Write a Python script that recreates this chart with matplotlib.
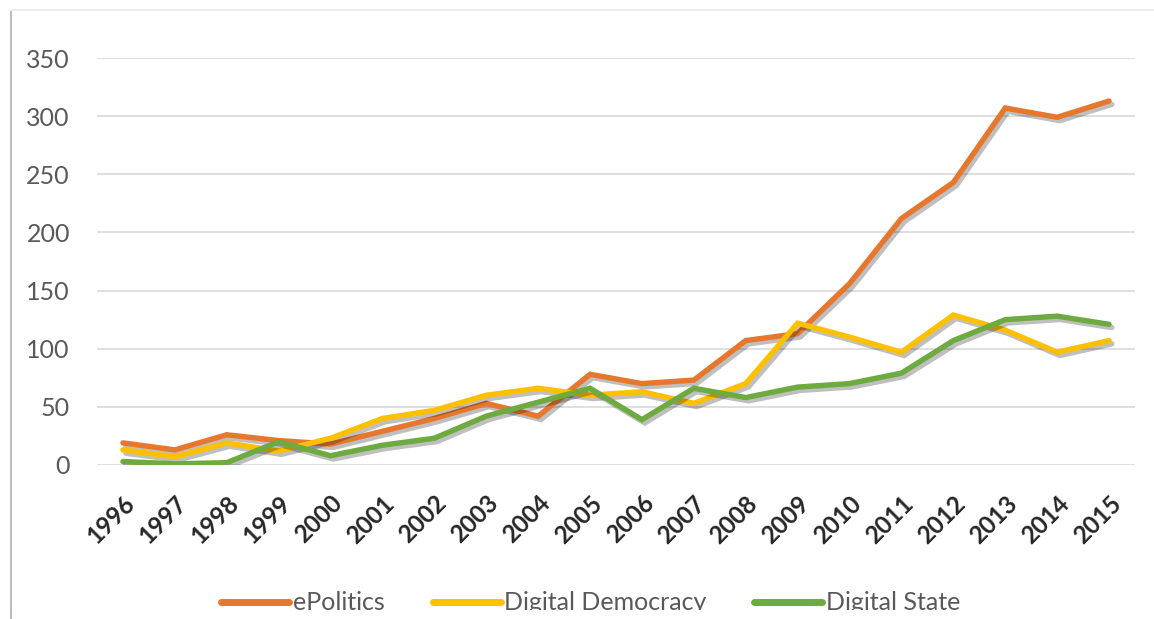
import matplotlib
matplotlib.use("Agg")
import matplotlib.pyplot as plt
import matplotlib.patheffects as pe
import matplotlib.transforms as mtransforms
from matplotlib.lines import Line2D
from matplotlib.patches import Rectangle

years = list(range(1996, 2016))
epolitics = [19, 13, 26, 21, 18, 29, 40, 53, 42, 78, 70, 73, 107, 113, 156, 212, 243, 307, 299, 313]
digital_democracy = [13, 7, 19, 12, 23, 40, 47, 60, 66, 60, 63, 53, 70, 122, 110, 97, 129, 116, 97, 107]
digital_state = [3, 1, 2, 20, 8, 17, 23, 42, 54, 66, 39, 66, 58, 67, 70, 79, 107, 125, 128, 121]
series_names = ["ePolitics", "Digital Democracy", "Digital State"]
series_colors = ["#E8772E", "#FFC000", "#6DAA3F"]
y_ticks = [0, 50, 100, 150, 200, 250, 300, 350]

plt.rcParams["font.family"] = ["Lato", "DejaVu Sans"]

W, H = 1154, 619
fig = plt.figure(figsize=(W / 100, H / 100), dpi=100)
ax = fig.add_axes([97 / W, 1 - 465 / H, (1135 - 97) / W, (465 - 58) / H])

shadow = [pe.SimpleLineShadow(offset=(2.0, -2.4), shadow_color="#000000", alpha=0.25),
          pe.Normal()]
for vals, name, col in zip([epolitics, digital_democracy, digital_state],
                           series_names, series_colors):
    ax.plot(years, vals, color=col, lw=3.9, label=name,
            solid_joinstyle="miter", solid_capstyle="round",
            path_effects=shadow, zorder=3)

ax.set_xlim(1995.5, 2015.5)
ax.set_ylim(0, 350)
ax.set_yticks(y_ticks)
ax.set_xticks(years)
ax.set_xticklabels([str(y) for y in years], rotation=45, ha="right",
                   rotation_mode="anchor", fontsize=17.5, color="#262626",
                   fontweight="bold")
shift = mtransforms.ScaledTranslation(-6 / 100, 0, fig.dpi_scale_trans)
for lab in ax.get_xticklabels():
    lab.set_transform(lab.get_transform() + shift)
ax.tick_params(axis="y", length=0, pad=19.5, labelsize=18, labelcolor="#595959")
ax.tick_params(axis="x", length=0, pad=19)
ax.grid(axis="y", color="#D9D9D9", lw=1.2, zorder=0)
for s in ax.spines.values():
    s.set_visible(False)

handles = [Line2D([], [], color=c, lw=5, solid_capstyle="round") for c in series_colors]
fig.legend(handles, series_names, loc="center", bbox_to_anchor=(591 / W, 1 - 603 / H),
           ncol=3, frameon=False, fontsize=18, handlelength=2.72,
           handletextpad=0.16, columnspacing=1.9, borderpad=0,
           labelcolor="#595959")

# chart frame edges
fig.add_artist(Line2D([11 / W, 11 / W], [0, 1 - 10 / H], color="#BDBDBD", lw=1.5))
fig.add_artist(Line2D([11 / W, 1], [1 - 10 / H, 1 - 10 / H], color="#EDEDED", lw=1.5))
# band along the bottom edge
fig.add_artist(Rectangle((12 / W, 0), 1, 9 / H, transform=fig.transFigure,
                         facecolor="white", edgecolor="none", zorder=10))

fig.savefig("out.png", dpi=100)
